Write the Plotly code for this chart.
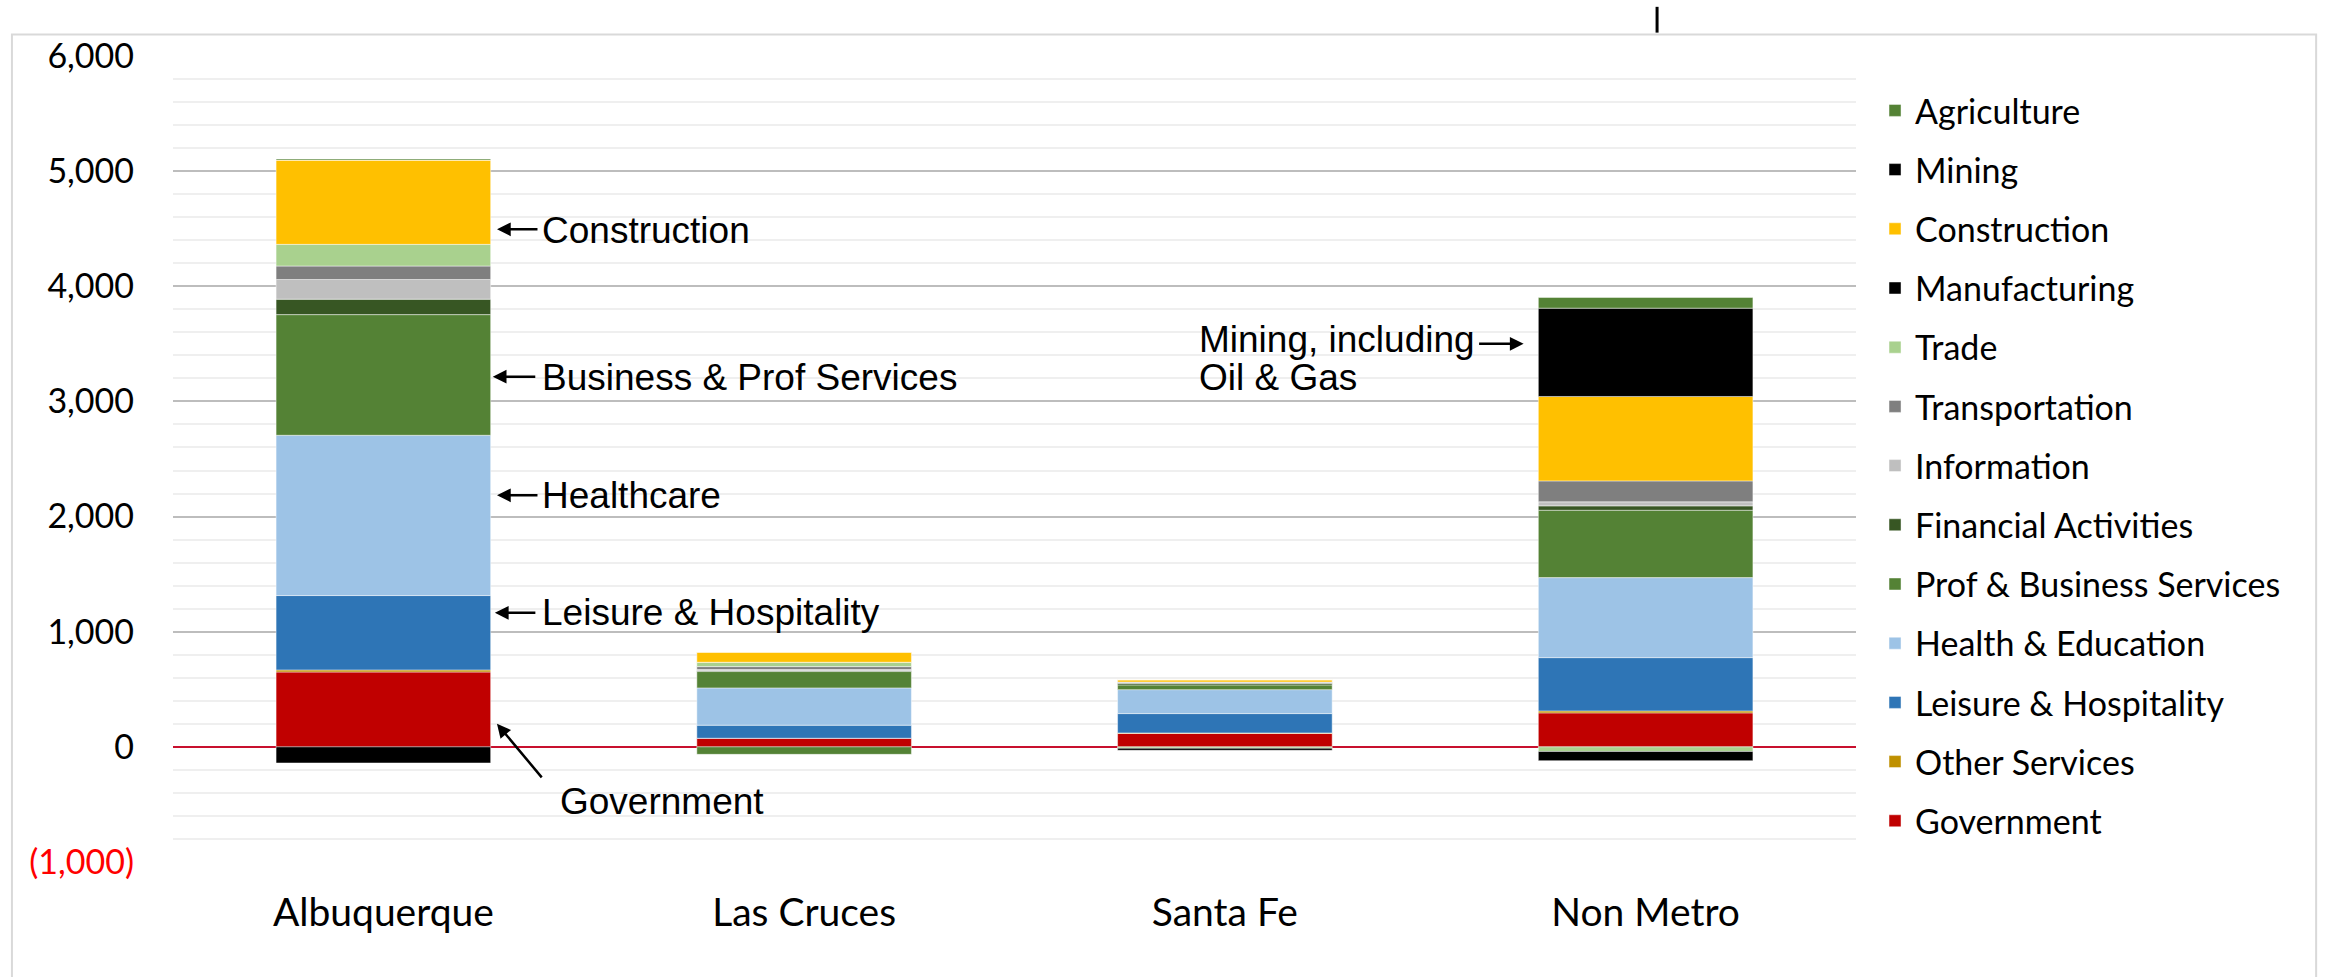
import plotly.graph_objects as go

categories = ["Albuquerque", "Las Cruces", "Santa Fe", "Non Metro"]

series_names = ["Government", "Other Services", "Leisure & Hospitality", "Health & Education",
                "Prof & Business Services", "Financial Activities", "Information", "Transportation",
                "Trade", "Manufacturing", "Construction", "Mining", "Agriculture"]

government = [650, 75, 116, 295]
other_services = [18, 0, 5, 17]
leisure_hospitality = [646, 113, 168, 463]
health_education = [1392, 324, 208, 695]
prof_business = [1048, 142, 41, 585]
financial = [134, 8, 15, 38]
information = [171, 10, 5, 35]
transportation = [117, 25, 5, 182]
trade = [188, 38, -12, -40]
manufacturing = [-140, 0, -18, -80]
construction = [732, 87, 20, 733]
mining = [0, 0, 0, 767]
agriculture = [10, -65, 0, 93]

series_values = [government, other_services, leisure_hospitality, health_education, prof_business,
                 financial, information, transportation, trade, manufacturing, construction,
                 mining, agriculture]

colors = ["#C00000", "#BF9000", "#2E75B6", "#9DC3E6", "#548235", "#375623", "#BFBFBF",
          "#7F7F7F", "#A9D18E", "#000000", "#FFC000", "#000000", "#548235"]

y_tickvals = [-1000, 0, 1000, 2000, 3000, 4000, 5000, 6000]
y_ticktext = ["<span style='color:#FF0000'>(1,000)</span>", "0", "1,000", "2,000", "3,000",
              "4,000", "5,000", "6,000"]

CAL = "Lato, 'Open Sans', sans-serif"
ARIAL = "'Liberation Sans', Arial, sans-serif"

fig = go.Figure()
n = len(series_names)
for i, (name, vals, col) in enumerate(zip(series_names, series_values, colors)):
    fig.add_trace(go.Bar(
        x=categories, y=vals, name=name, legendgroup=name, legendrank=n - i,
        marker=dict(color=col, line=dict(color="rgba(255,255,255,0.45)", width=1)),
    ))

fig.update_layout(
    width=2325, height=977,
    barmode="relative", bargap=0.49,
    paper_bgcolor="white", plot_bgcolor="white",
    margin=dict(l=173, r=469, t=56, b=115),
    font=dict(family=CAL, size=34, color="#000000"),
    showlegend=True,
    legend=dict(
        x=1.0113, xanchor="left", y=0.968, yanchor="top",
        traceorder="grouped", tracegroupgap=12,
        font=dict(family=CAL, size=34, color="#000000"),
        bgcolor="rgba(0,0,0,0)",
    ),
    xaxis=dict(
        type="category", showgrid=False, showline=False, zeroline=False,
        ticks="", tickfont=dict(family=CAL, size=39), ticklabelstandoff=24,
    ),
    yaxis=dict(
        range=[-1000, 6000], tickmode="array", tickvals=y_tickvals, ticktext=y_ticktext,
        showgrid=True, gridcolor="#BDBDBD", gridwidth=2,
        zeroline=True, zerolinecolor="#C8102E", zerolinewidth=2,
        showline=False, ticks="", tickfont=dict(family=CAL, size=34),
        ticklabelstandoff=38,
        minor=dict(tickmode="linear", tick0=0, dtick=200, showgrid=True,
                   gridcolor="#EFEFEF", gridwidth=2, ticks=""),
    ),
)

# frame border and small mark at top
fig.add_shape(type="rect", xref="paper", yref="paper", x0=-0.0957, x1=1.2734, y0=-0.2, y1=1.0266,
              line=dict(color="#D9D9D9", width=2), fillcolor="rgba(0,0,0,0)", layer="below")
fig.add_shape(type="line", xref="paper", yref="paper", x0=0.8818, x1=0.8818, y0=1.029, y1=1.061,
              line=dict(color="#000000", width=3))

# arrow annotations (head at x,y; tail offset ax, ay in px)
arrows = [
    (0.27, 4495, 42, 0),
    (0.26, 3215, 44, 0),
    (0.27, 2185, 42, 0),
    (0.265, 1164, 42, 0),
    (0.27, 200, 46, 55),
    (2.71, 3500, -46, 0),
]
for x, y, ax, ay in arrows:
    fig.add_annotation(x=x, y=y, xref="x", yref="y", text="", showarrow=True,
                       ax=ax, ay=ay, arrowhead=2, arrowsize=1.1, arrowwidth=2.5,
                       arrowcolor="#000000", standoff=0, startstandoff=0)

labels = [
    ("Construction", 0.373, 4483),
    ("Business & Prof Services", 0.373, 3210),
    ("Healthcare", 0.373, 2180),
    ("Leisure & Hospitality", 0.373, 1170),
    ("Government", 0.415, -478),
    ("Mining, including", 1.934, 3536),
    ("Oil & Gas", 1.934, 3204),
]
for t, x, y in labels:
    fig.add_annotation(x=x, y=y, xref="x", yref="y", text=t, showarrow=False,
                       xanchor="left", yanchor="middle",
                       font=dict(family=ARIAL, size=37, color="#000000"))

fig.write_html("out.html")
